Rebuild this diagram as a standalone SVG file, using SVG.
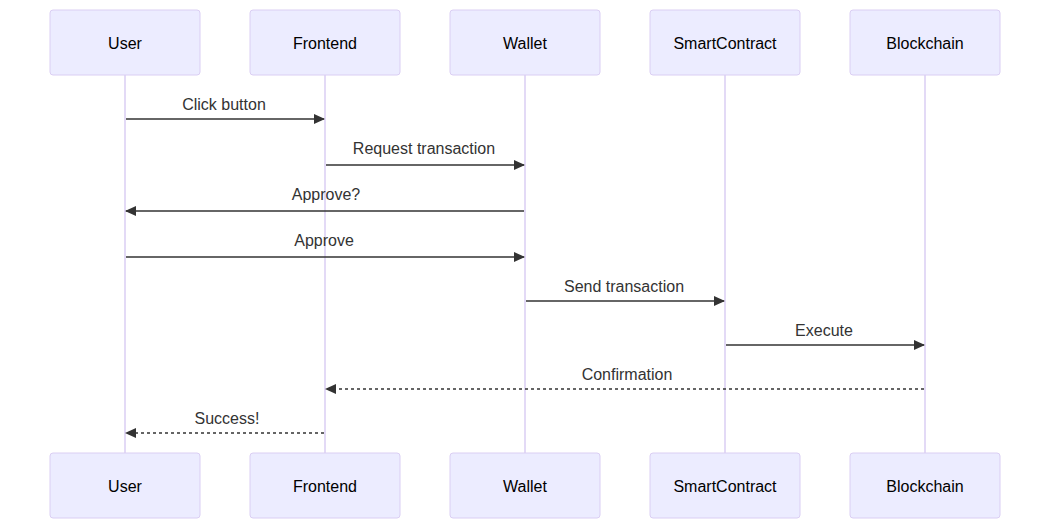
<svg xmlns="http://www.w3.org/2000/svg" width="1050" height="529" viewBox="0 0 1050 529">
<style>
.actor{fill:#ECECFF;stroke:#DACEF3;stroke-width:1}
.atext{font-family:"Liberation Sans",Arial,sans-serif;font-size:16px;fill:#000;text-anchor:middle;dominant-baseline:central}
.life{stroke:#DACEF3;stroke-width:1.5}
.msg{stroke:#333;stroke-width:1.5;fill:none}
.dash{stroke-dasharray:3,3}
.mtext{font-family:"Liberation Sans",Arial,sans-serif;font-size:16px;fill:#333;text-anchor:middle}
</style>
<defs>
<marker id="arrow" markerUnits="userSpaceOnUse" markerWidth="12" markerHeight="12" refX="10" refY="5" orient="auto">
<path d="M 0 0 L 11 5 L 0 10 z" fill="#333"/>
</marker>
</defs>
<g id="lifelines">
<line class="life" x1="125" y1="75" x2="125" y2="453"/>
<line class="life" x1="325" y1="75" x2="325" y2="453"/>
<line class="life" x1="525" y1="75" x2="525" y2="453"/>
<line class="life" x1="725" y1="75" x2="725" y2="453"/>
<line class="life" x1="925" y1="75" x2="925" y2="453"/>
</g>
<g id="user-top"><rect class="actor" x="50" y="10" width="150" height="65" rx="3"/><text class="atext" x="125" y="43">User</text></g>
<g id="frontend-top"><rect class="actor" x="250" y="10" width="150" height="65" rx="3"/><text class="atext" x="325" y="43">Frontend</text></g>
<g id="wallet-top"><rect class="actor" x="450" y="10" width="150" height="65" rx="3"/><text class="atext" x="525" y="43">Wallet</text></g>
<g id="smartcontract-top"><rect class="actor" x="650" y="10" width="150" height="65" rx="3"/><text class="atext" x="725" y="43">SmartContract</text></g>
<g id="blockchain-top"><rect class="actor" x="850" y="10" width="150" height="65" rx="3"/><text class="atext" x="925" y="43">Blockchain</text></g>
<g id="user-bottom"><rect class="actor" x="50" y="453" width="150" height="65" rx="3"/><text class="atext" x="125" y="486">User</text></g>
<g id="frontend-bottom"><rect class="actor" x="250" y="453" width="150" height="65" rx="3"/><text class="atext" x="325" y="486">Frontend</text></g>
<g id="wallet-bottom"><rect class="actor" x="450" y="453" width="150" height="65" rx="3"/><text class="atext" x="525" y="486">Wallet</text></g>
<g id="smartcontract-bottom"><rect class="actor" x="650" y="453" width="150" height="65" rx="3"/><text class="atext" x="725" y="486">SmartContract</text></g>
<g id="blockchain-bottom"><rect class="actor" x="850" y="453" width="150" height="65" rx="3"/><text class="atext" x="925" y="486">Blockchain</text></g>
<g id="connectors">
<line class="msg" x1="126" y1="119" x2="324" y2="119" marker-end="url(#arrow)"/>
<text class="mtext" x="224" y="110">Click button</text>
<line class="msg" x1="326" y1="165" x2="524" y2="165" marker-end="url(#arrow)"/>
<text class="mtext" x="424" y="154">Request transaction</text>
<line class="msg" x1="524" y1="211" x2="126" y2="211" marker-end="url(#arrow)"/>
<text class="mtext" x="326" y="200">Approve?</text>
<line class="msg" x1="126" y1="257" x2="524" y2="257" marker-end="url(#arrow)"/>
<text class="mtext" x="324" y="246">Approve</text>
<line class="msg" x1="526" y1="301" x2="724" y2="301" marker-end="url(#arrow)"/>
<text class="mtext" x="624" y="292">Send transaction</text>
<line class="msg" x1="726" y1="345" x2="924" y2="345" marker-end="url(#arrow)"/>
<text class="mtext" x="824" y="336">Execute</text>
<line class="msg dash" x1="924" y1="389" x2="326" y2="389" marker-end="url(#arrow)"/>
<text class="mtext" x="627" y="380">Confirmation</text>
<line class="msg dash" x1="324" y1="433" x2="126" y2="433" marker-end="url(#arrow)"/>
<text class="mtext" x="227" y="424">Success!</text>
</g>
</svg>
